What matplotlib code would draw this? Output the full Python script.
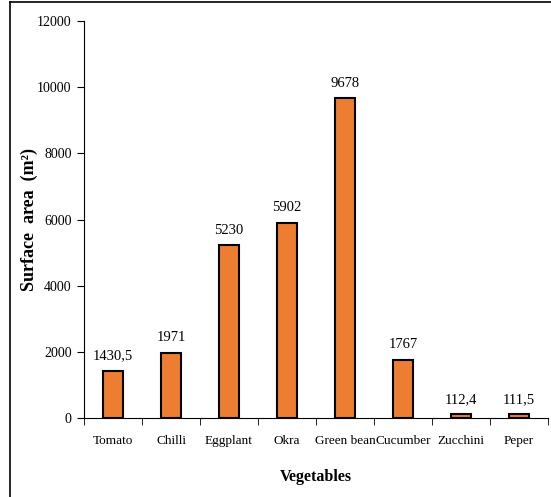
import numpy as np
import matplotlib.pyplot as plt
from matplotlib.lines import Line2D

vegetables = ['Tomato', 'Chilli', 'Eggplant', 'Okra', 'Green bean', 'Cucumber', 'Zucchini', 'Peper']
surface = [1430.5, 1971, 5230, 5902, 9678, 1767, 112.4, 111.5]
value_labels = ['1430,5', '1971', '5230', '5902', '9678', '1767', '112,4', '111,5']

plt.rcParams['font.family'] = ['Liberation Serif', 'DejaVu Serif']

fig = plt.figure(figsize=(5.51, 4.97), dpi=100)
ax = fig.add_axes([0.1525, 0.159, 0.842, 0.7987])

x = np.arange(len(vegetables)) + 0.5
bars = ax.bar(x, surface, width=0.33, color='#ED7D31', edgecolor='black', linewidth=1.5)

for xi, v, lab in zip(x, surface, value_labels):
    ax.annotate(lab, (xi, v), xytext=(0, 6), textcoords='offset points',
                ha='center', va='bottom', fontsize=10.5)

ax.set_xlim(0, 8)
ax.set_ylim(0, 12000)
ax.set_yticks(np.arange(0, 12001, 2000))
ax.set_xticks(x)
ax.set_xticklabels(vegetables)
ax.set_xticks(np.arange(0, 9), minor=True)
ax.tick_params(axis='x', which='major', length=0, labelsize=9.5, pad=12)
ax.tick_params(axis='x', which='minor', length=5, direction='out')
ax.tick_params(axis='y', length=5, direction='out', labelsize=10, pad=4)

for s in ['top', 'right']:
    ax.spines[s].set_visible(False)

ax.set_xlabel('Vegetables', fontsize=11.5, fontweight='bold', labelpad=16)
ax.set_ylabel('Surface  area  (m²)', fontsize=13, fontweight='bold')
ax.yaxis.set_label_coords(-0.099, 0.5)

# frame around the figure (left and top only, rest cropped)
fig.add_artist(Line2D([10/551, 10/551], [0, 1 - 2/497], color='black', lw=1.2, transform=fig.transFigure))
fig.add_artist(Line2D([10/551, 1], [1 - 2/497, 1 - 2/497], color='black', lw=1.2, transform=fig.transFigure))

fig.savefig('out.png', dpi=100)
